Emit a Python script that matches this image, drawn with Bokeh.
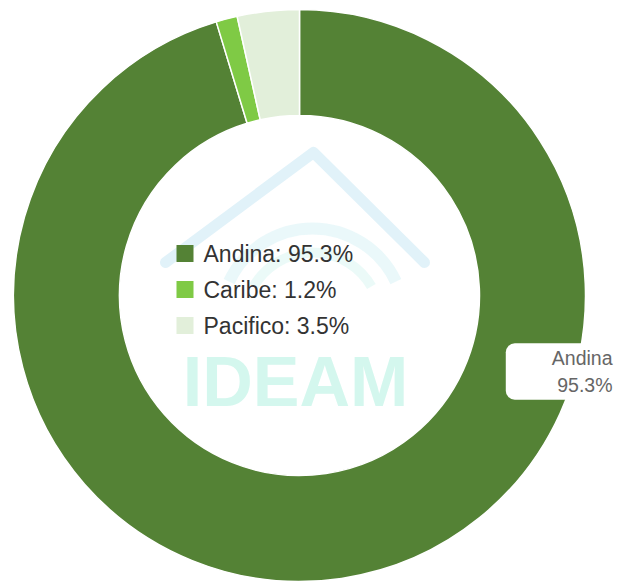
import math
from bokeh.plotting import figure
from bokeh.models import Range1d, Label, ColumnDataSource
from bokeh.core.properties import value
from bokeh.embed import file_html
from bokeh.resources import INLINE

# ---- data ----
categories = ["Andina", "Caribe", "Pacifico"]
values = [95.3, 1.2, 3.5]
colors = ["#548235", "#7fca45", "#e2efda"]
label_category = "Andina"
label_value = 95.3
watermark_text = "IDEAM"

# ---- geometry (pixel-like data units; y measured upward) ----
W, H = 618, 581
cx, cy = 299, 286
r_out, r_in = 286, 180

total = sum(values)
starts, ends = [], []
acc = 0.0
for v in values:
    starts.append(math.pi / 2 - acc / total * 2 * math.pi)
    acc += v
    ends.append(math.pi / 2 - acc / total * 2 * math.pi)

p = figure(width=W, height=H, x_range=Range1d(0, W), y_range=Range1d(0, H),
           output_backend="svg", toolbar_location=None, min_border=0,
           background_fill_color="white", border_fill_color="white")
p.axis.visible = False
p.grid.visible = False
p.outline_line_color = None

src = ColumnDataSource(dict(start=starts, end=ends, color=colors, cat=categories))
p.annular_wedge(x=cx, y=cy, inner_radius=r_in, outer_radius=r_out,
                start_angle="start", end_angle="end", direction="clock",
                fill_color="color", line_color="white", line_width=1.5, source=src)

# ---- watermark ----
wm = "#d9eff8"
p.line(x=[165, 313, 424], y=[581 - 262, 581 - 152, 581 - 262], line_color=wm,
       line_width=11, line_join="round", line_cap="round", alpha=0.8)
p.arc(x=312, y=581 - 320, radius=92, start_angle=math.radians(25),
      end_angle=math.radians(155), line_color="#dcf4f6", line_width=12, alpha=0.6)
p.arc(x=312, y=581 - 320, radius=68, start_angle=math.radians(30),
      end_angle=math.radians(150), line_color="#def6f3", line_width=10, alpha=0.6)
p.text(x=[295], y=[581 - 381], text=[watermark_text], text_font=value("Liberation Sans"),
       text_font_style="bold", text_font_size="70px", text_color="#d4f7ee",
       text_align="center", text_baseline="middle")

# ---- legend inside the hole ----
row_y = [581 - 253, 581 - 289, 581 - 325]
p.rect(x=[184.5] * 3, y=row_y, width=17, height=17, fill_color=colors, line_color=None)
legend_texts = [f"{c}: {v}%" for c, v in zip(categories, values)]
p.text(x=[203] * 3, y=row_y, text=legend_texts, text_font=value("Liberation Sans"),
       text_font_size="23px", text_color="#333333", text_baseline="middle", text_align="left")

# ---- data label box ----
lab = Label(x=612, y=581 - 371, text=f"{label_category}\n{label_value}%",
            text_font="Liberation Sans", text_font_size="19.5px", text_color="#666666",
            text_align="right", text_baseline="middle", text_line_height=1.2,
            background_fill_color="white", background_fill_alpha=1.0,
            border_radius=9, padding=(46, 0, 4, 4))
p.add_layout(lab)

open("out.html", "w").write(file_html(p, INLINE))
